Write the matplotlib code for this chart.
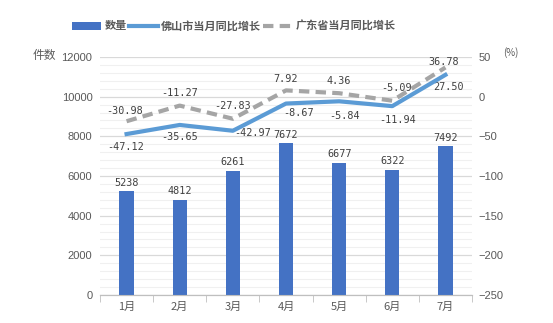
import matplotlib.pyplot as plt
import numpy as np

plt.rcParams['font.family'] = ['Noto Sans CJK SC', 'DejaVu Sans']

months = ['1月', '2月', '3月', '4月', '5月', '6月', '7月']
counts = [5238, 4812, 6261, 7672, 6677, 6322, 7492]
foshan = [-47.12, -35.65, -42.97, -8.67, -5.84, -11.94, 27.50]
guangdong = [-30.98, -11.27, -27.83, 7.92, 4.36, -5.09, 36.78]

fig = plt.figure(figsize=(5.53, 3.23), dpi=100)
ax = fig.add_axes([100 / 553, 1 - 295 / 323, 372 / 553, 238 / 323])
ax2 = ax.twinx()

x = np.arange(len(months))
grey = '#595959'
lab = dict(fontsize=7.3, color='#404040', family='DejaVu Sans Mono')

bars = ax.bar(x, counts, width=0.27, color='#4472C4', zorder=3, label='数量')
for xi, v in zip(x, counts):
    ax.annotate(str(v), (xi, v), xytext=(0, 6), textcoords='offset points',
                ha='center', va='center', **lab)

ax.set_xlim(-0.5, 6.5)
ax.set_ylim(0, 12000)
ax.set_yticks(np.arange(0, 12001, 2000))
ax.set_yticks(np.arange(0, 12001, 400), minor=True)
ax.grid(axis='y', which='major', color='#d9d9d9', lw=0.9, zorder=0)
ax.grid(axis='y', which='minor', color='#f0f0f0', lw=0.8, zorder=0)
ax.set_axisbelow(True)
ax.set_xticks(x)
ax.set_xticklabels(months)
ax.set_xticks(np.arange(-0.5, 7, 1), minor=True)
ax.tick_params(axis='x', which='major', length=0, labelsize=8, labelcolor=grey, pad=5)
ax.tick_params(axis='x', which='minor', length=5, color='#bfbfbf')
ax.tick_params(axis='y', which='both', length=0, labelsize=8, labelcolor=grey, pad=5.5)
for t in ax.get_yticklabels():
    t.set_family('Liberation Sans')

ax2.set_ylim(-250, 50)
ax2.set_yticks(np.arange(-250, 51, 50))
ax2.set_yticklabels([str(t).replace('-', '−') for t in range(-250, 51, 50)])
ax2.tick_params(axis='y', length=0, labelsize=8, labelcolor=grey, pad=4.5)
for t in ax2.get_yticklabels():
    t.set_family('Liberation Sans')

for a in (ax, ax2):
    for s in ('top', 'left', 'right'):
        a.spines[s].set_visible(False)
    a.spines['bottom'].set_color('#bfbfbf')

l1, = ax2.plot(x, foshan, color='#5B9BD5', lw=3, zorder=4, label='佛山市当月同比增长')
l2, = ax2.plot(x, guangdong, color='#A5A5A5', lw=3, ls=(0, (2.5, 1.5)), zorder=4,
               label='广东省当月同比增长')

# label offsets in points
fs_off = [(-1, -9.5), (0, -8.5), (14, -1.5), (9, -7), (4, -10.5), (4, -10), (2, -8.5)]
for xi, v, (dx, dy) in zip(x, foshan, fs_off):
    ax2.annotate('%.2f' % v, (xi, v), xytext=(dx, dy), textcoords='offset points',
                 ha='center', va='center', **lab)
gd_off = [(-1.5, 7.5), (0, 9), (0, 9), (0, 8), (0, 8.5), (3, 9), (-1.5, 4)]
for xi, v, (dx, dy) in zip(x, guangdong, gd_off):
    ax2.annotate('%.2f' % v, (xi, v), xytext=(dx, dy), textcoords='offset points',
                 ha='center', va='center', **lab)

fig.text(44 / 553, 1 - 55 / 323, '件数', ha='center', va='center', fontsize=8.5, color=grey)
fig.text(511 / 553, 1 - 53 / 323, '(%)', ha='center', va='center', fontsize=7, color=grey)

fig.legend(handles=[bars, l1, l2], loc='center', bbox_to_anchor=(234 / 553, 1 - 26 / 323),
           ncol=3, frameon=False, handlelength=2.6, handletextpad=0.3,
           columnspacing=0.2, labelcolor=grey, prop={'weight': 'bold', 'size': 8})

fig.savefig('out.png', dpi=100)
